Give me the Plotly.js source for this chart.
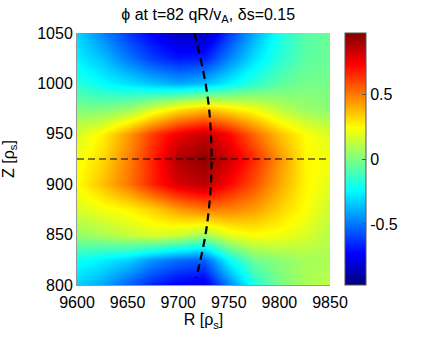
<!DOCTYPE html>
<html>
<head>
<meta charset="utf-8">
<script src="https://cdn.plot.ly/plotly-3.0.1.min.js"></script>
<style>
  html, body { margin: 0; padding: 0; background: #fff; }
  #chart { width: 424px; height: 344px; }
</style>
</head>
<body>
<div id="chart"></div>
<script>
  // grid of the field (rows = Z, columns = R)
  const R_VALUES = [9600, 9625, 9650, 9675, 9700, 9725, 9750, 9775, 9800, 9825, 9850];
  const Z_VALUES = [800, 825, 850, 875, 900, 925, 950, 975, 1000, 1025, 1050];
  const PHI = [
    [-0.33, -0.41, -0.55, -0.67, -0.75, -0.78, -0.48, -0.19, -0.02, 0.08, 0.12],
    [-0.22, -0.27, -0.33, -0.45, -0.52, -0.55, -0.24, -0.04, 0.02, 0.07, 0.08],
    [0.04, 0.08, 0.13, 0.17, 0.14, 0.06, 0.19, 0.24, 0.22, 0.17, 0.10],
    [0.17, 0.22, 0.26, 0.33, 0.43, 0.50, 0.48, 0.43, 0.33, 0.24, 0.14],
    [0.24, 0.36, 0.50, 0.67, 0.80, 0.86, 0.72, 0.58, 0.41, 0.26, 0.19],
    [0.22, 0.31, 0.48, 0.67, 0.88, 0.94, 0.82, 0.65, 0.45, 0.26, 0.22],
    [0.17, 0.26, 0.43, 0.62, 0.76, 0.84, 0.72, 0.53, 0.36, 0.24, 0.17],
    [0.00, 0.00, 0.05, 0.17, 0.29, 0.36, 0.29, 0.22, 0.12, 0.05, 0.02],
    [-0.17, -0.24, -0.30, -0.36, -0.41, -0.37, -0.26, -0.16, -0.07, -0.02, -0.02],
    [-0.27, -0.36, -0.50, -0.62, -0.69, -0.67, -0.48, -0.30, -0.17, -0.07, -0.04],
    [-0.32, -0.47, -0.62, -0.74, -0.84, -0.86, -0.62, -0.40, -0.20, -0.08, -0.04]
  ];

  // curved dashed line (field line)
  const CURVE_R = [9716, 9722, 9727, 9730.5, 9732.3, 9733, 9732.3, 9730.3, 9727, 9722, 9718];
  const CURVE_Z = [1050, 1025, 1000, 975, 950, 925, 900, 875, 850, 825, 807];

  // horizontal dashed line
  const HLINE_R = [9600, 9850];
  const HLINE_Z = [925, 925];

  const X_TICKS = [9600, 9650, 9700, 9750, 9800, 9850];
  const X_LABELS = ["9600", "9650", "9700", "9750", "9800", "9850"];
  const Y_TICKS = [800, 850, 900, 950, 1000, 1050];
  const Y_LABELS = ["800", "850", "900", "950", "1000", "1050"];
  const CB_TICKS = [-0.5, 0, 0.5];
  const CB_LABELS = ["-0.5", "0", "0.5"];

  const JET = [
    [0, "#00007f"],
    [0.125, "#0000ff"],
    [0.375, "#00ffff"],
    [0.625, "#ffff00"],
    [0.875, "#ff0000"],
    [1, "#7f0000"]
  ];

  const FONT = { family: "Liberation Sans, Arial, sans-serif", size: 16, color: "#000" };

  const traces = [
    {
      type: "heatmap",
      x: R_VALUES,
      y: Z_VALUES,
      z: PHI,
      zsmooth: "best",
      colorscale: JET,
      zmin: -0.97,
      zmax: 0.97,
      hoverinfo: "skip",
      colorbar: {
        x: 1.059,
        xanchor: "left",
        xref: "paper",
        y: 0.5,
        yanchor: "middle",
        len: 1.0,
        lenmode: "fraction",
        thickness: 21,
        thicknessmode: "pixels",
        xpad: 0,
        ypad: 0,
        outlinewidth: 1,
        outlinecolor: "#555",
        tickvals: CB_TICKS,
        ticktext: CB_LABELS,
        ticks: "inside",
        ticklen: 4,
        tickcolor: "#555",
        tickfont: FONT
      }
    },
    {
      type: "scatter",
      mode: "lines",
      x: HLINE_R,
      y: HLINE_Z,
      line: { color: "#000", width: 1.2, dash: "7px,4px" },
      hoverinfo: "skip"
    },
    {
      type: "scatter",
      mode: "lines",
      x: CURVE_R,
      y: CURVE_Z,
      line: { color: "#000", width: 2.2, dash: "8px,5px", shape: "spline" },
      hoverinfo: "skip"
    }
  ];

  const layout = {
    width: 424,
    height: 344,
    margin: { l: 77, r: 94, t: 33, b: 59 },
    paper_bgcolor: "#fff",
    plot_bgcolor: "#fff",
    showlegend: false,
    font: FONT,
    title: {
      text: "ϕ at t=82 qR/v<sub>A</sub>, δs=0.15",
      font: FONT,
      xref: "container",
      x: 0.491,
      xanchor: "center",
      yref: "container",
      y: 0.958,
      yanchor: "middle"
    },
    xaxis: {
      range: [9600, 9850],
      tickvals: X_TICKS,
      ticktext: X_LABELS,
      ticks: "outside",
      ticklen: 3,
      tickcolor: "rgba(0,0,0,0)",
      showgrid: false,
      zeroline: false,
      showline: true,
      linecolor: "#999",
      linewidth: 1,
      tickfont: FONT,
      title: { text: "R [ρ<sub>s</sub>]", font: FONT, standoff: 3 }
    },
    yaxis: {
      range: [800, 1050],
      tickvals: Y_TICKS,
      ticktext: Y_LABELS,
      ticks: "",
      showgrid: false,
      zeroline: false,
      showline: true,
      linecolor: "#999",
      linewidth: 1,
      tickfont: FONT,
      title: { text: "Z [ρ<sub>s</sub>]", font: FONT, standoff: 20 }
    }
  };

  Plotly.newPlot("chart", traces, layout, { displayModeBar: false, staticPlot: true });
</script>
</body>
</html>
